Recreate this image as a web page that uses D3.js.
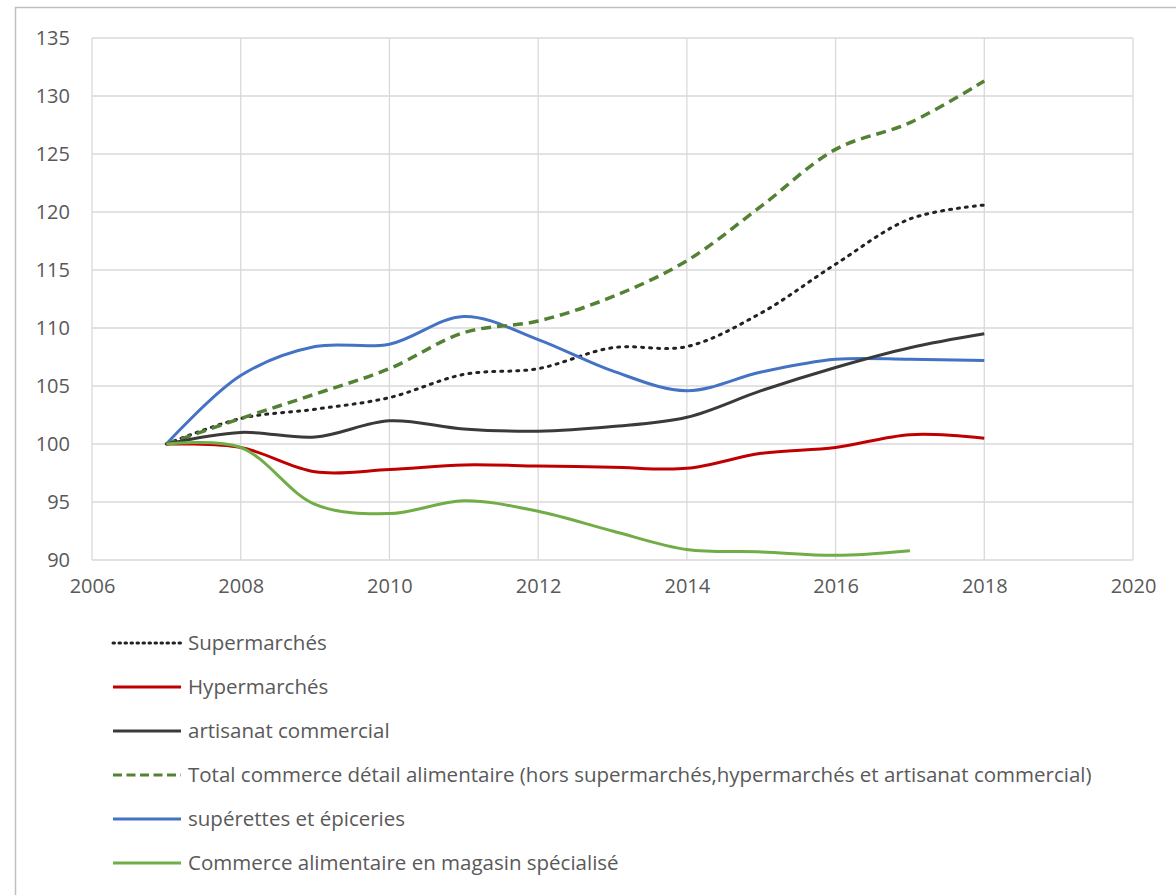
<!DOCTYPE html>
<html><head><meta charset="utf-8">
<script src="https://cdn.jsdelivr.net/npm/d3@7"></script>
<style>body{margin:0;background:#fff;} svg{display:block;}</style>
</head><body><svg id="c" width="1176" height="895"></svg>
<script>
const years = [2007,2008,2009,2010,2011,2012,2013,2014,2015,2016,2017,2018];
const supermarches = [100,102.2,103,104,106,106.5,108.3,108.4,111.3,115.5,119.4,120.6];
const hypermarches = [100,99.7,97.6,97.8,98.2,98.1,98,97.9,99.2,99.7,100.8,100.5];
const artisanat = [100,101,100.6,102,101.3,101.1,101.5,102.3,104.6,106.6,108.3,109.5];
const totalCommerce = [100,102.2,104.3,106.5,109.6,110.6,112.7,115.8,120.5,125.4,127.7,131.3];
const superettes = [100,105.9,108.4,108.6,111,109,106.3,104.6,106.2,107.3,107.3,107.2];
const specialise = [100,99.7,94.8,94,95.1,94.2,92.5,90.9,90.7,90.4,90.8];
const xTicks = [2006,2008,2010,2012,2014,2016,2018,2020];
const yTicks = [90,95,100,105,110,115,120,125,130,135];
const seriesNames = ["Supermarchés","Hypermarchés","artisanat commercial",
 "Total commerce détail alimentaire (hors supermarchés,hypermarchés et artisanat commercial)",
 "supérettes et épiceries","Commerce alimentaire en magasin spécialisé"];
const seriesValues = [supermarches,hypermarches,artisanat,totalCommerce,superettes,specialise];
const seriesColors = ["#222222","#c00000","#3a3a3a","#548235","#4472c4","#70ad47"];
const seriesDash = ["2,6","","","10,6","",""];
const seriesCap = ["round","butt","butt","butt","butt","butt"];

const svg = d3.select("#c");
const font = "'Open Sans', 'Liberation Sans', sans-serif";
svg.append("rect").attr("x",15.5).attr("y",7.5).attr("width",1180).attr("height",900)
  .attr("fill","none").attr("stroke","#bfbfbf").attr("stroke-width",1.5);

const L=92,R=1133,T=38,B=560;
const x = d3.scaleLinear().domain([2006,2020]).range([L,R]);
const y = d3.scaleLinear().domain([90,135]).range([B,T]);

const g = svg.append("g");
g.selectAll(".hg").data(yTicks).enter().append("line")
 .attr("x1",L).attr("x2",R).attr("y1",d=>y(d)).attr("y2",d=>y(d))
 .attr("stroke","#d9d9d9").attr("stroke-width",1.3);
g.selectAll(".vg").data(xTicks).enter().append("line")
 .attr("y1",T).attr("y2",B).attr("x1",d=>x(d)).attr("x2",d=>x(d))
 .attr("stroke","#d9d9d9").attr("stroke-width",1.3);

const ax = svg.append("g").attr("transform",`translate(0,${B})`)
 .call(d3.axisBottom(x).tickValues(xTicks).tickFormat(d3.format("d")).tickSize(0).tickPadding(24));
const ay = svg.append("g").attr("transform",`translate(${L},0)`)
 .call(d3.axisLeft(y).tickValues(yTicks).tickSize(0).tickPadding(22));
[ax,ay].forEach(a=>{a.select(".domain").remove();
 a.selectAll("text").attr("fill","#595959").style("font-size","20px").style("font-family",font);});
ax.selectAll("text").attr("dy","0.45em");

const line = d3.line().x((d,i)=>x(years[i])).y(d=>y(d)).curve(d3.curveCatmullRom.alpha(0.5));
const order=[0,4,3,2,1,5];
order.forEach(k=>{
 svg.append("path").datum(seriesValues[k]).attr("d",line)
  .attr("fill","none").attr("stroke",seriesColors[k]).attr("stroke-width",k===3?3.5:3)
  .attr("stroke-dasharray",seriesDash[k]||null).attr("stroke-linecap",seriesCap[k]);
});

const lg = svg.append("g");
seriesNames.forEach((n,i)=>{
 const yy = 643 + i*44;
 lg.append("line").attr("x1",113).attr("x2",181).attr("y1",yy).attr("y2",yy)
  .attr("stroke",seriesColors[i]).attr("stroke-width",3)
  .attr("stroke-dasharray",i===0?"1.5,4.5":(i===3?"9,4.5":null)).attr("stroke-linecap",seriesCap[i]);
 lg.append("text").attr("x",188).attr("y",yy).attr("dy","0.35em").text(n)
  .attr("fill","#595959").style("font-size","20.5px").style("font-family",font);
});
</script></body></html>
